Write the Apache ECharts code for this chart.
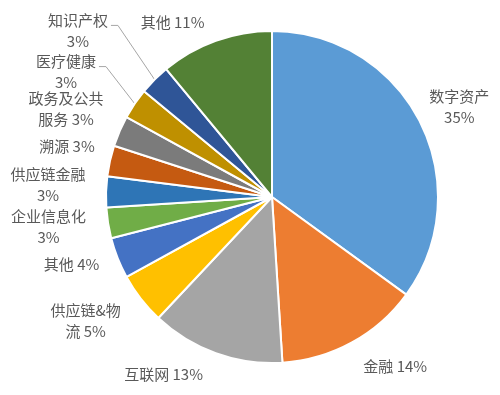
<!DOCTYPE html>
<html><head><meta charset="utf-8">
<script src="https://cdn.jsdelivr.net/npm/echarts@6/dist/echarts.min.js"></script>
<style>html,body{margin:0;padding:0;background:#fff}#c{width:500px;height:395px}</style>
</head><body><div id="c"></div>
<script>
// ---- data ----
const categories = ['数字资产','金融','互联网','供应链&物流','其他','企业信息化','供应链金融','溯源','政务及公共服务','医疗健康','知识产权','其他'];
const values = [35, 14, 13, 5, 4, 3, 3, 3, 3, 3, 3, 11];
// label text split (how each name wraps before the percentage)
const labelNames = ['数字资产\n', '金融 ', '互联网 ', '供应链&物\n流 ', '其他 ', '企业信息化\n', '供应链金融\n', '溯源 ', '政务及公共\n服务 ', '医疗健康\n', '知识产权\n', '其他 '];

// ---- style ----
const colors = ['#5B9BD5','#ED7D31','#A5A5A5','#FFC000','#4472C4','#70AD47','#2E75B6','#C55A11','#7B7B7B','#BF9000','#2F5597','#538135'];
// label nudges from the radial anchor (px)
const labelNudge = [[2,4],[23,-13],[-38,-18],[-22,-4],[-7,-9],[-18,-3],[-16,-6],[-2,-5],[-15,-6],[-34,-8],[-47,-19],[-29,21]];
const leaderItems = [9, 10];

const chart = echarts.init(document.getElementById('c'), null, {renderer:'canvas'});
const data = values.map((v, i) => {
  const d = { name: categories[i], value: v, itemStyle: { color: colors[i] } };
  if (leaderItems.indexOf(i) >= 0) d.labelLine = { show: true };
  return d;
});
chart.setOption({
  animation: false,
  backgroundColor: '#fff',
  series: [{
    type: 'pie',
    center: [272, 197],
    radius: 166,
    startAngle: 90,
    clockwise: true,
    avoidLabelOverlap: false,
    itemStyle: { borderColor: '#fff', borderWidth: 2 },
    emphasis: { disabled: true },
    label: {
      show: true,
      position: 'outside',
      formatter: p => labelNames[p.dataIndex] + p.value + '%',
      fontSize: 15,
      lineHeight: 21,
      color: '#595959',
      fontFamily: 'Noto Sans CJK SC',
      distanceToLabelLine: 0
    },
    labelLine: { show: false, length: 42, length2: 0, lineStyle: { color: '#A6A6A6', width: 1 } },
    labelLayout: function (p) {
      const i = p.dataIndex;
      const n = labelNudge[i];
      const res = { dx: n[0], dy: n[1], align: 'center', verticalAlign: 'middle' };
      if (leaderItems.indexOf(i) >= 0 && p.labelLinePoints) {
        const a = p.labelLinePoints[2];
        const cx = a[0] + n[0], cy = a[1] + n[1];
        const w = p.labelRect.width, h = p.labelRect.height;
        const textRight = cx + w / 2;
        const ly = cy - h / 2 + 10.5 + 5;
        const end = [textRight + 3, ly];
        const knee = [textRight + 10, ly];
        res.labelLinePoints = [p.labelLinePoints[0], knee, end];
      }
      return res;
    },
    data: data
  }]
});
</script>
</body></html>
